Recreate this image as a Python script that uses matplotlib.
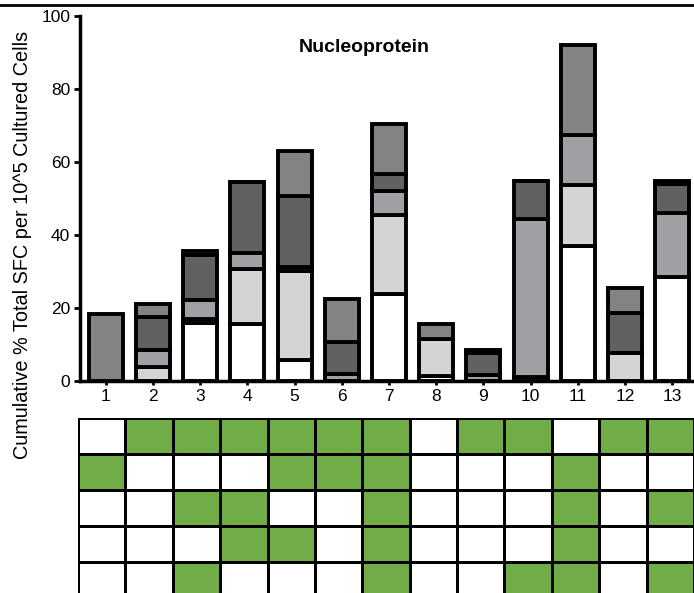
import matplotlib.pyplot as plt
import numpy as np
from matplotlib.colors import ListedColormap

plt.rcParams['font.family'] = ['Liberation Sans', 'DejaVu Sans']

# stacked segment heights per peptide pool, bottom to top
pools = [str(i) for i in range(1, 14)]
white_seg = [0, 0, 16.0, 15.7, 5.7, 0, 23.8, 1.4, 0, 1.2, 37.1, 0, 28.4]
light_seg = [0, 3.8, 0.9, 15.1, 24.5, 0, 21.8, 10.0, 0, 0, 16.7, 7.6, 0]
medium_seg = [0, 4.6, 5.3, 4.4, 0.9, 2.0, 6.4, 0, 1.6, 43.2, 13.5, 0, 17.6]
dark_seg = [0, 9.2, 12.4, 19.4, 19.5, 8.7, 4.7, 0, 6.0, 10.5, 0, 11.0, 8.0]
gray_seg = [18.3, 3.4, 0.9, 0, 12.5, 11.9, 13.6, 4.2, 0.9, 0, 24.7, 6.8, 0.7]

# green cells of the matrix below the bars (row x pool)
matrix = [
    [0, 1, 1, 1, 1, 1, 1, 0, 1, 1, 0, 1, 1],
    [1, 0, 0, 0, 1, 1, 1, 0, 0, 0, 1, 0, 0],
    [0, 0, 1, 1, 0, 0, 1, 0, 0, 0, 1, 0, 1],
    [0, 0, 0, 1, 1, 0, 1, 0, 0, 0, 1, 0, 0],
    [0, 0, 1, 0, 0, 0, 1, 0, 0, 1, 1, 0, 1],
]

W, H = 694, 593
fig = plt.figure(figsize=(W / 100, H / 100), dpi=100)

# border line at the top of the figure
fig.add_artist(plt.Line2D([0, 1], [1 - 5 / H, 1 - 5 / H], color='black', lw=2))

ax = fig.add_axes([80 / W, 1 - 381 / H, 1 - 80 / W, (381 - 16) / H])
x = np.arange(len(pools))
segs = [white_seg, light_seg, medium_seg, dark_seg, gray_seg]
colors = ['white', '#d4d4d4', '#a0a0a4', '#616161', '#838383']
bottom = np.zeros(len(pools))
for seg, c in zip(segs, colors):
    seg = np.array(seg)
    ax.bar(x, seg, bottom=bottom, width=0.72, color=c, edgecolor='black',
           linewidth=2.8, zorder=2)
    bottom += seg

ax.set_xlim(-0.545, 12.46)
ax.set_ylim(0, 100)
ax.set_yticks([0, 20, 40, 60, 80, 100])
ax.set_xticks(x)
ax.set_xticklabels(pools)
ax.tick_params(axis='y', labelsize=12.5, width=2, length=4, pad=3)
ax.tick_params(axis='x', labelsize=12.5, width=2, length=3, pad=3)
for s in ['top', 'right']:
    ax.spines[s].set_visible(False)
ax.spines['left'].set_linewidth(2.5)
ax.spines['bottom'].set_linewidth(2.5)
ax.set_ylabel('Cumulative % Total SFC per 10^5 Cultured Cells', fontsize=14.3)
ax.yaxis.set_label_coords(-0.078, 0.373)
ax.text(0.463, 0.915, 'Nucleoprotein', transform=ax.transAxes, ha='center',
        va='center', fontsize=14, fontweight='bold')

# matrix of pool composition
tab = fig.add_axes([78 / W, 1 - 598 / H, 1 - 78 / W, (598 - 418) / H])
tab.pcolormesh(np.array(matrix), cmap=ListedColormap(['white', '#70ad47']),
               edgecolors='black', linewidth=2)
tab.set_xlim(0, 13)
tab.set_ylim(5, 0)
tab.axis('off')

fig.savefig('out.png', dpi=100)
